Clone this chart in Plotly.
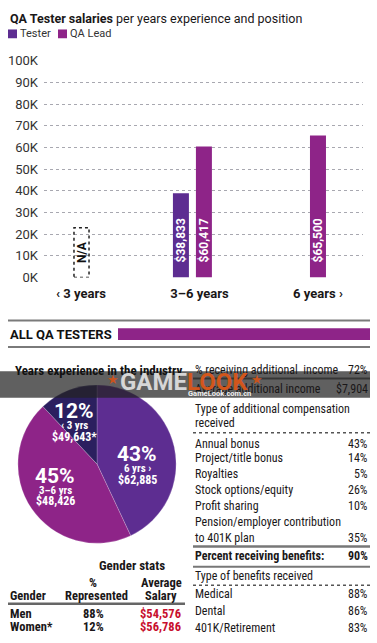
import plotly.graph_objects as go

W, H = 377, 643

# ---------------- data ----------------
categories = ["‹ 3 years", "3–6 years", "6 years ›"]
tester_salary = [None, 38833, None]
qa_lead_salary = [None, 60417, 65500]
tester_labels = ["", "$38,833", ""]
qa_lead_labels = ["", "$60,417", "$65,500"]
y_tickvals = [0, 10000, 20000, 30000, 40000, 50000, 60000, 70000, 80000, 90000, 100000]
y_ticktext = ["0K", "10K", "20K", "30K", "40K", "50K", "60K", "70K", "80K", "90K", "100K"]
na_category_index = 0
na_label = "N/A"

pie_values = [43, 45, 12]
pie_pct_labels = ["43%", "45%", "12%"]
pie_groups = ["6 yrs ›", "3–6 yrs", "‹ 3 yrs"]
pie_salaries = ["$62,885", "$48,426", "$49,643*"]

addl_income_pct = "72%"
addl_income_avg = "$7,904"
comp_types = ["Annual bonus", "Project/title bonus", "Royalties", "Stock options/equity",
              "Profit sharing", "Pension/employer contribution\nto 401K plan"]
comp_pcts = ["43%", "14%", "5%", "26%", "10%", "35%"]
benefits_pct = "90%"
benefit_types = ["Medical", "Dental", "401K/Retirement"]
benefit_pcts = ["88%", "86%", "83%"]

genders = ["Men", "Women*"]
gender_pcts = ["88%", "12%"]
gender_salaries = ["$54,576", "$56,786"]

# ---------------- style ----------------
INK = "#1a1718"
C_TESTER = "#5d2d91"
C_LEAD = "#8e2488"
C_DARK = "#2b1f5f"
RED = "#c8102e"
ROBOTO = "Roboto, Arial, sans-serif"
NARROW = "Liberation Sans Narrow, Arial Narrow, Roboto Condensed, Roboto, sans-serif"


def px(x):
    return x / W


def py(y):
    return 1 - y / H


annotations = []
shapes = []


def text(x, y, s, size=12, color=INK, family=NARROW, anchor="left", bold=False):
    annotations.append(dict(
        x=px(x), y=py(y), xref="paper", yref="paper", showarrow=False,
        text=f"<b>{s}</b>" if bold else s, xanchor=anchor, yanchor="middle",
        font=dict(size=size, color=color, family=family)))


def hline(y, x0, x1, color="#7a7a7a", width=2, dash="solid"):
    shapes.append(dict(type="line", xref="paper", yref="paper",
                       x0=px(x0), x1=px(x1), y0=py(y), y1=py(y),
                       line=dict(color=color, width=width, dash=dash)))


fig = go.Figure()

# ---------------- bar chart ----------------
BAR_W = 0.135
tester_offsets = [0, -0.224, 0]
lead_offsets = [0, -0.030, -0.0675]

fig.add_trace(go.Bar(x=categories, y=tester_salary, name="Tester", marker_color=C_TESTER,
                     width=BAR_W, offset=tester_offsets, hoverinfo="skip",
                     marker_line_width=0, xaxis="x", yaxis="y"))
fig.add_trace(go.Bar(x=categories, y=qa_lead_salary, name="QA Lead", marker_color=C_LEAD,
                     width=BAR_W, offset=lead_offsets, hoverinfo="skip",
                     marker_line_width=0, xaxis="x", yaxis="y"))

for vals, labs, offs in [(tester_salary, tester_labels, tester_offsets),
                         (qa_lead_salary, qa_lead_labels, lead_offsets)]:
    for i, (v, lab, o) in enumerate(zip(vals, labs, offs)):
        if v is None:
            continue
        annotations.append(dict(x=i + o + BAR_W / 2, y=0, xref="x", yref="y",
                                text=f"<b>{lab}</b>", showarrow=False, textangle=-90,
                                xanchor="center", yanchor="bottom", yshift=13,
                                font=dict(size=12, color="white", family=ROBOTO)))

# N/A placeholder box
NA_BOX_H = 23000
shapes.append(dict(type="rect", xref="x", yref="y",
                   x0=na_category_index - 0.059, x1=na_category_index + 0.068,
                   y0=0, y1=NA_BOX_H, line=dict(color="#222", width=1.5, dash="dot")))
annotations.append(dict(x=na_category_index + 0.0045, y=NA_BOX_H / 2, xref="x", yref="y",
                        text=f"<b>{na_label}</b>", showarrow=False, textangle=-90,
                        font=dict(size=12, color="#111", family=ROBOTO)))

# title + legend
text(8, 11.5, "<b>QA Tester salaries</b> per years experience and position", size=12.5,
     family=ROBOTO)
for (x0, name, col) in [(8, "Tester", C_TESTER), (58, "QA Lead", C_LEAD)]:
    shapes.append(dict(type="rect", xref="paper", yref="paper", x0=px(x0), x1=px(x0 + 9),
                       y0=py(32), y1=py(23), fillcolor=col, line=dict(width=0)))
    text(x0 + 9.5, 27.5, name, size=11, color="#333", family=ROBOTO)

# ---------------- section header ----------------
hline(321, 8, 370, width=2)
hline(348, 8, 370, width=2)
text(8, 335, "ALL QA TESTERS", size=13, color="#111", family=ROBOTO, bold=True)
shapes.append(dict(type="rect", xref="paper", yref="paper", x0=px(118), x1=px(370),
                   y0=py(341), y1=py(329), fillcolor=C_LEAD, line=dict(width=0)))

# ---------------- pie ----------------
fig.add_trace(go.Pie(values=pie_values, labels=pie_groups, sort=False, direction="clockwise",
                     rotation=0, textinfo="none", hoverinfo="skip", showlegend=False,
                     marker=dict(colors=[C_TESTER, C_LEAD, C_DARK],
                                 line=dict(color="rgba(255,255,255,0.35)", width=0.6)),
                     domain=dict(x=[px(16), px(178)], y=[py(549), py(387)])))
text(13, 372, "Years experience in the industry", size=13, color="#111", bold=True)

PIE_LABEL_XY = [(137, 458), (55, 480), (74, 414)]
for (lx, ly), pct, grp, sal in zip(PIE_LABEL_XY, pie_pct_labels, pie_groups, pie_salaries):
    text(lx, ly, pct, size=21, color="white", family=ROBOTO, anchor="center", bold=True)
    text(lx, ly + 15, grp, size=11, color="white", anchor="center", bold=True)
    text(lx, ly + 26, sal, size=12, color="white", anchor="center", bold=True)

# ---------------- gender stats ----------------
text(97, 572, "Gender stats", size=13, bold=True)
text(93, 589, "%", size=12.5, anchor="center", bold=True)
text(161, 589, "Average", size=12.5, anchor="center", bold=True)
text(8, 603, "Gender", size=12.5, bold=True)
text(96, 603, "Represented", size=12.5, anchor="center", bold=True)
text(161, 603, "Salary", size=12.5, anchor="center", bold=True)
hline(611, 8, 185, color="#666", width=2.5)
for i, (g, p, s) in enumerate(zip(genders, gender_pcts, gender_salaries)):
    yy = 621 + 13 * i
    text(8, yy, g, size=12.5, bold=True)
    text(93, yy, p, size=12.5, anchor="center", bold=True)
    text(160, yy, s, size=12.5, color=RED, anchor="center", bold=True)

# ---------------- right column ----------------
LX, RX = 193, 370
FS = 12
text(LX, 372, "% receiving additional  income", size=FS)
text(RX, 372, addl_income_pct, size=FS, anchor="right")
hline(380.5, LX, RX, color="#666", width=2)
text(LX, 391.5, "Average additional income", size=FS)
text(RX, 391.5, addl_income_avg, size=FS, anchor="right")
text(LX, 411.5, "Type of additional compensation", size=FS)
text(LX, 425.5, "received", size=FS)
hline(436, LX, RX, color="#555", width=1.5, dash="dot")
comp_y = [447, 462, 478, 495, 511, 527]
for yy, lab, val in zip(comp_y, comp_types, comp_pcts):
    parts = lab.split("\n")
    for k, part in enumerate(parts):
        text(LX, yy + 16.5 * k, part, size=FS)
    text(RX, yy + 16.5 * (len(parts) - 1), val, size=FS, anchor="right")
hline(552.5, LX, RX, color="#777", width=2.5)
text(LX, 562.5, "Percent receiving benefits:", size=FS, bold=True)
text(RX, 562.5, benefits_pct, size=FS, anchor="right", bold=True)
hline(573, LX, RX, color="#777", width=2)
text(LX, 582.5, "Type of benefits received", size=FS)
hline(592, LX, RX, color="#555", width=1.5, dash="dot")
for i, (lab, val) in enumerate(zip(benefit_types, benefit_pcts)):
    yy = 601.5 + 17 * i
    text(LX, yy, lab, size=FS)
    text(RX, yy, val, size=FS, anchor="right")

# ---------------- watermark band ----------------
shapes.append(dict(type="rect", xref="paper", yref="paper", x0=px(0), x1=px(370),
                   y0=py(400), y1=py(373), fillcolor="rgba(35,35,35,0.72)",
                   line=dict(width=0), layer="above"))
text(184, 384, "<span style='color:#d6d6d6'>GAME</span><span style='color:#d2561c'>LOOK</span>",
     size=24, family=ROBOTO, anchor="center", bold=True)
text(113, 381, "★", size=13, color="#c9531d", family="DejaVu Sans", anchor="center")
text(257, 381, "★", size=13, color="#c9531d", family="DejaVu Sans", anchor="center")
text(219, 395.5, "GameLook.com.cn", size=7.5, color="#f0f0f0", family=ROBOTO,
     anchor="center", bold=True)

fig.update_layout(
    width=W, height=H, autosize=False,
    margin=dict(l=0, r=0, t=0, b=0),
    paper_bgcolor="white", plot_bgcolor="white",
    barmode="overlay", showlegend=False,
    xaxis=dict(type="category", categoryorder="array", categoryarray=categories,
               range=[-0.312, 2.380], domain=[px(44), px(363)], showgrid=False,
               zeroline=False, showline=False, ticks="", ticklabelstandoff=6,
               tickfont=dict(family=ROBOTO, size=13, color=INK, weight="bold"),
               fixedrange=True),
    yaxis=dict(range=[0, 100000], domain=[py(277), py(55)], tickvals=y_tickvals,
               ticktext=y_ticktext, showgrid=True, gridcolor="#a8a8b0", gridwidth=1,
               griddash="dot", zeroline=False, showline=False, ticks="",
               ticklabelstandoff=5, tickfont=dict(family=ROBOTO, size=13, color="#333"),
               fixedrange=True),
    shapes=shapes, annotations=annotations,
)

fig.write_html("out.html", config={"displayModeBar": False},
               post_script="document.body.style.margin='0';")
